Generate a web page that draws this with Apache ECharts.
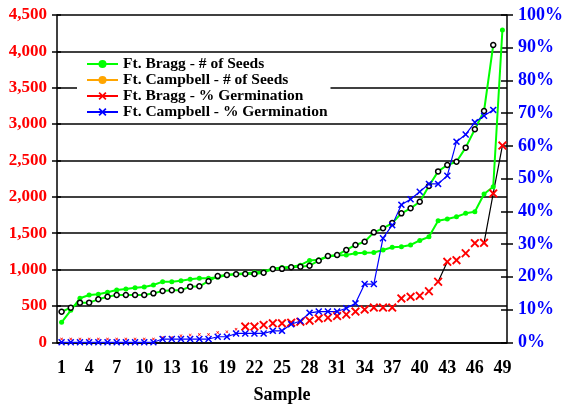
<!DOCTYPE html>
<html>
<head>
<meta charset="utf-8">
<script src="https://cdn.jsdelivr.net/npm/echarts@6/dist/echarts.min.js"></script>
<style>html,body{margin:0;padding:0;background:#fff}#c{width:563px;height:405px}</style>
</head>
<body>
<div id="c"></div>
<script>
const samples = ['1','2','3','4','5','6','7','8','9','10','11','12','13','14','15','16','17','18','19','20','21','22','23','24','25','26','27','28','29','30','31','32','33','34','35','36','37','38','39','40','41','42','43','44','45','46','47','48','49'];
const braggSeeds = [275,440,605,650,660,687,719,733,751,760,788,834,834,847,866,880,880,895,925,940,950,960,975,1015,1030,1040,1060,1125,1135,1180,1195,1200,1224,1230,1235,1269,1306,1315,1338,1400,1450,1670,1695,1727,1773,1796,2039,2139,4293];
const campbellSeeds = [420,476,545,545,591,627,650,650,650,650,673,705,715,715,765,770,840,910,925,935,939,940,957,1008,1010,1031,1040,1053,1122,1187,1200,1269,1338,1383,1512,1567,1640,1773,1842,1933,2150,2350,2437,2483,2676,2930,3180,4087];
const braggPct = [1,1,1,1,1,1,1,1,1,1,1,1.5,1.5,2,2.2,2.4,2.4,3,3.2,4,4.8,4.8,5.3,5.8,5.8,6,6.3,6.6,7.3,7.5,8,8.5,9.4,10,10.6,10.6,10.6,13.4,13.9,14.2,15.6,18.5,24.6,25.1,27.2,30.3,30.4,45.5,60.1];
const campbellPct = [0,0,0,0,0,0,0,0,0,0,0,1,1,1,1,1,1,1.7,1.7,2.7,2.7,2.7,2.7,3.5,3.5,5.5,6.5,9,9.4,9.4,9.4,10.4,11.9,17.8,17.8,31.8,35.8,42,43.7,46,48.4,48.4,50.9,61.3,63.5,67.2,69.2,71];
const seedTicks = [0,500,1000,1500,2000,2500,3000,3500,4000,4500];
const pctTicks = [0,10,20,30,40,50,60,70,80,90,100];
const names = ['Ft. Bragg - # of Seeds','Ft. Campbell - # of Seeds','Ft. Bragg - % Germination','Ft. Campbell - % Germination'];

const FONT = 'Liberation Serif';
const XSYM = 'path://M0,1.5L1.5,0L5,3.5L8.5,0L10,1.5L6.5,5L10,8.5L8.5,10L5,6.5L1.5,10L0,8.5L3.5,5Z';
const linkIdx = [41,42,46,47,48];
const braggLink = braggPct.map((v,i)=> linkIdx.includes(i) ? v : null);

const chart = echarts.init(document.getElementById('c'), null, {renderer:'canvas'});
chart.setOption({
  animation:false,
  backgroundColor:'#fff',
  grid:{left:57,right:56,top:15,bottom:62.7,containLabel:false,outerBoundsMode:'none'},
  legend:{
    orient:'vertical', left:77, top:54, padding:[2,3,3,9],
    backgroundColor:'#fff', itemWidth:31, itemHeight:10, itemGap:0,
    selectedMode:false,
    textStyle:{fontFamily:FONT,fontWeight:'bold',fontSize:15.5,lineHeight:15.5,color:'#000'},
    data:[
      {name:names[0], itemStyle:{color:'#00FF00',borderColor:'#00FF00'}, lineStyle:{color:'#00FF00',width:2}},
      {name:names[1], itemStyle:{color:'#FFA500',borderColor:'#FFA500',borderWidth:0}, lineStyle:{color:'#FFA500',width:2}},
      {name:names[2], itemStyle:{color:'#FF0000'}, lineStyle:{color:'#FF0000',width:2,opacity:1}},
      {name:names[3], itemStyle:{color:'#0000FF'}, lineStyle:{color:'#0000FF',width:2}}
    ]
  },
  xAxis:[{
    type:'category', data:samples, boundaryGap:true,
    name:'Sample', nameLocation:'middle', nameGap:44,
    nameTextStyle:{fontFamily:FONT,fontWeight:'bold',fontSize:18,color:'#000'},
    axisLine:{lineStyle:{color:'#000',width:1.5}},
    axisTick:{interval:0,length:6,lineStyle:{color:'#000',width:1.5}},
    axisLabel:{interval:2,margin:17,fontFamily:FONT,fontWeight:'bold',fontSize:18,color:'#000'},
    splitLine:{show:false}
  },{
    type:'category', data:samples, boundaryGap:true, position:'bottom',
    axisLine:{show:false},
    axisTick:{interval:0,inside:true,length:3,lineStyle:{color:'#000',width:1.5}},
    axisLabel:{show:false}, splitLine:{show:false}
  }],
  yAxis:[{
    type:'value', min:seedTicks[0], max:seedTicks[seedTicks.length-1], interval:500, position:'left',
    axisLine:{show:true,lineStyle:{color:'#000',width:1.5}},
    axisTick:{show:true,length:5,lineStyle:{color:'#000',width:1.5}},
    axisLabel:{margin:10,fontFamily:FONT,fontWeight:'bold',fontSize:17,color:'#FF0000',
      formatter:v=>v.toLocaleString('en-US')},
    splitLine:{show:true,lineStyle:{color:'#000',width:1.5}}
  },{
    type:'value', min:pctTicks[0], max:pctTicks[pctTicks.length-1], interval:10, position:'right',
    axisLine:{show:true,lineStyle:{color:'#000',width:1.5}},
    axisTick:{show:true,length:6,lineStyle:{color:'#000',width:1.5}},
    axisLabel:{margin:11,fontFamily:FONT,fontWeight:'bold',fontSize:18,color:'#0000FF',formatter:'{value}%'},
    splitLine:{show:false}
  },{
    type:'value', min:pctTicks[0], max:pctTicks[pctTicks.length-1], interval:10, position:'right',
    axisLine:{show:false}, axisTick:{show:true,inside:true,length:6,lineStyle:{color:'#000',width:1.5}},
    axisLabel:{show:false}, splitLine:{show:false}
  },{
    type:'value', min:seedTicks[0], max:seedTicks[seedTicks.length-1], interval:500, position:'left',
    axisLine:{show:false}, axisTick:{show:true,inside:true,length:4,lineStyle:{color:'#000',width:1.5}},
    axisLabel:{show:false}, splitLine:{show:false}
  }],
  series:[
    {name:names[0], type:'line', data:braggSeeds, xAxisIndex:0, yAxisIndex:0,
      symbol:'circle', symbolSize:5, showAllSymbol:true, itemStyle:{color:'#00FF00'},
      lineStyle:{color:'#00FF00',width:2}},
    {name:names[1], type:'line', data:campbellSeeds, xAxisIndex:0, yAxisIndex:0,
      symbol:'circle', symbolSize:5, showAllSymbol:true, itemStyle:{color:'#fff',borderColor:'#000',borderWidth:1.5},
      lineStyle:{color:'#00FF00',width:2}},
    {name:'link', type:'line', data:braggLink, xAxisIndex:0, yAxisIndex:1, symbol:'none',
      connectNulls:false, lineStyle:{color:'#000',width:1.2}},
    {name:names[2], type:'line', data:braggPct, xAxisIndex:0, yAxisIndex:1,
      symbol:XSYM, symbolKeepAspect:true, showAllSymbol:true,
      symbolSize:(v,p)=> p.dataIndex < 20 ? 3 : 9,
      itemStyle:{color:'#FF0000'}, lineStyle:{width:0,color:'#FF0000',opacity:0}},
    {name:names[3], type:'line', data:campbellPct, xAxisIndex:0, yAxisIndex:1,
      symbol:XSYM, symbolKeepAspect:true, symbolSize:7, showAllSymbol:true,
      itemStyle:{color:'#0000FF'}, lineStyle:{color:'#0000FF',width:1.2}}
  ]
});
</script>
</body>
</html>
